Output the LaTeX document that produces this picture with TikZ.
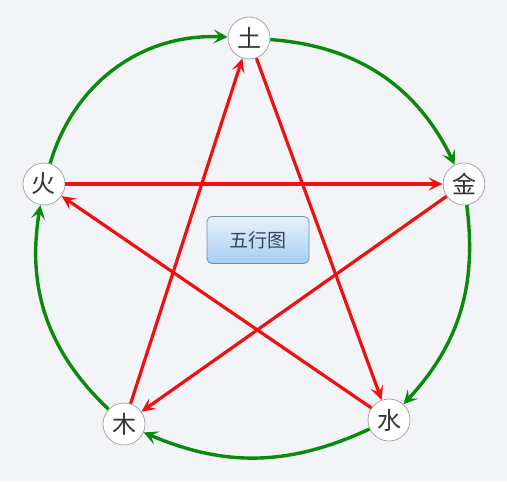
\documentclass[tikz,border=0pt]{standalone}
\usepackage{fontspec}
\newfontfamily\cjk{Noto Sans CJK SC}
\usetikzlibrary{arrows.meta}
\definecolor{bg}{HTML}{F3F4F7}
\definecolor{shengc}{HTML}{0A8A0A}
\definecolor{kec}{HTML}{F01010}
\definecolor{boxline}{HTML}{7090B0}
\definecolor{boxtop}{HTML}{E8F2FC}
\definecolor{boxbot}{HTML}{A6CEF4}
\definecolor{boxtext}{HTML}{3A4656}

\begin{document}
\begin{tikzpicture}[x=0.5pt,y=-0.5pt,
  elem/.style={circle,draw=gray!70,fill=white,minimum size=21pt,inner sep=0pt,
    font=\cjk\fontsize{12}{12}\selectfont,text=black!80},
  titlebox/.style={draw=boxline,rounded corners=2.5pt,top color=boxtop,bottom color=boxbot,
    minimum width=51pt,minimum height=23.5pt,font=\cjk\fontsize{9.5}{9.5}\selectfont,text=boxtext},
  sheng/.style={draw=shengc,line width=1.7pt,-{Stealth[length=7pt,width=7pt,inset=3pt]}},
  ke/.style={draw=kec,line width=1.6pt,-{Stealth[length=7pt,width=6.5pt,inset=3pt]}}]
\fill[bg] (0,0) rectangle (507,481);
\useasboundingbox (0,0) rectangle (507,481);
% elements
\node[elem] (tu) at (249,38) {土};
\node[elem] (jin) at (464,184) {金};
\node[elem] (shui) at (389,420) {水};
\node[elem] (mu) at (124,424) {木};
\node[elem] (huo) at (44,184) {火};
\node[titlebox] (title) at (258,240) {五行图};
% generating cycle
\draw[sheng] (huo) to[bend left=38] (tu);
\draw[sheng] (tu) to[bend left=30] (jin);
\draw[sheng] (jin) to[bend left=25] (shui);
\draw[sheng] (shui) to[bend left=24] (mu);
\draw[sheng] (mu) to[bend left=28] (huo);
% overcoming cycle
\draw[ke] (mu) -- (tu);
\draw[ke] (tu) -- (shui);
\draw[ke] (shui) -- (huo);
\draw[ke] (huo) -- (jin);
\draw[ke] (jin) -- (mu);
\end{tikzpicture}
\end{document}
